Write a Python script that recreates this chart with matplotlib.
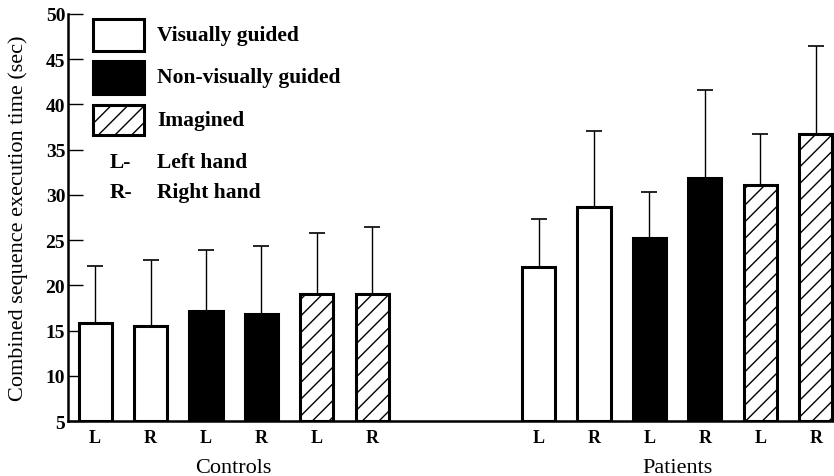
import numpy as np
import matplotlib.pyplot as plt
from matplotlib.patches import Rectangle

plt.rcParams['font.family'] = ['Liberation Serif', 'DejaVu Serif']
plt.rcParams['hatch.linewidth'] = 1.0

# mean execution time (sec) and upper error, per condition and hand
conditions = ['Visually guided', 'Non-visually guided', 'Imagined']
hands = ['L', 'R']
controls_mean = [15.8, 15.5, 17.2, 16.8, 19.0, 19.0]
controls_err = [6.3, 7.3, 6.7, 7.5, 6.8, 7.45]
patients_mean = [22.0, 28.7, 25.2, 31.9, 31.1, 36.7]
patients_err = [5.3, 8.4, 5.1, 9.7, 5.6, 9.8]
groups = ['Controls', 'Patients']

fills = {'Visually guided': ('white', ''),
         'Non-visually guided': ('black', ''),
         'Imagined': ('white', '//')}

fig = plt.figure(figsize=(8.34, 4.77), dpi=100)
ax = fig.add_axes([0.0815, 0.1153, 0.9185, 0.8533])

x_controls = np.arange(6)
x_patients = np.arange(6) + 8

for xs, means, errs in [(x_controls, controls_mean, controls_err),
                        (x_patients, patients_mean, patients_err)]:
    for i, (x, m, e) in enumerate(zip(xs, means, errs)):
        face, hatch = fills[conditions[i // 2]]
        ax.bar(x, m - 5, bottom=5, width=0.6, color=face, edgecolor='black',
               linewidth=2.2, hatch=hatch, zorder=3)
        ax.errorbar(x, m, yerr=[[0], [e]], fmt='none', ecolor='black',
                    elinewidth=1.0, capsize=5.5, capthick=1.2, zorder=2)

ticks = np.concatenate([x_controls, x_patients])
ax.set_xticks(ticks)
ax.set_xticklabels(hands * 6, fontsize=13, fontweight='bold')
ax.tick_params(axis='x', length=0, pad=6)

ax.set_xlim(-0.49, 13.33)
ax.set_ylim(5, 50)
ax.set_yticks(np.arange(5, 51, 5))
ax.tick_params(axis='y', direction='in', length=11, width=1.0, labelsize=14, pad=2)
for lab in ax.get_yticklabels():
    lab.set_fontweight('bold')
ax.spines['top'].set_visible(False)
ax.spines['right'].set_visible(False)
ax.spines['left'].set_linewidth(1.8)
ax.spines['bottom'].set_linewidth(1.8)

ax.set_ylabel('Combined sequence execution time (sec)', fontsize=16)
ax.yaxis.set_label_coords(-0.052, 0.5)

# group names beneath the L/R labels
for xs, name in zip([x_controls, x_patients], groups):
    ax.text(xs.mean(), -0.115, name, transform=ax.get_xaxis_transform(),
            ha='center', va='center', fontsize=16)

# legend: condition swatches and hand abbreviations
box_y = [0.909, 0.803, 0.703]
box_h = [0.079, 0.082, 0.073]
for cond, y0, h in zip(conditions, box_y, box_h):
    face, hatch = fills[cond]
    ax.add_patch(Rectangle((0.0326, y0), 0.0666, h, transform=ax.transAxes,
                           facecolor=face, edgecolor='black', linewidth=2.2,
                           hatch=hatch, clip_on=False, zorder=4))
    ax.text(0.116, y0 + h / 2, cond, transform=ax.transAxes,
            ha='left', va='center', fontsize=15.5, fontweight='bold')

for abbr, label, y in [('L-', 'Left hand', 0.636), ('R-', 'Right hand', 0.563)]:
    ax.text(0.055, y, abbr, transform=ax.transAxes, ha='left', va='center',
            fontsize=15.5, fontweight='bold')
    ax.text(0.116, y, label, transform=ax.transAxes, ha='left', va='center',
            fontsize=15.5, fontweight='bold')

fig.savefig('out.png', dpi=100)
